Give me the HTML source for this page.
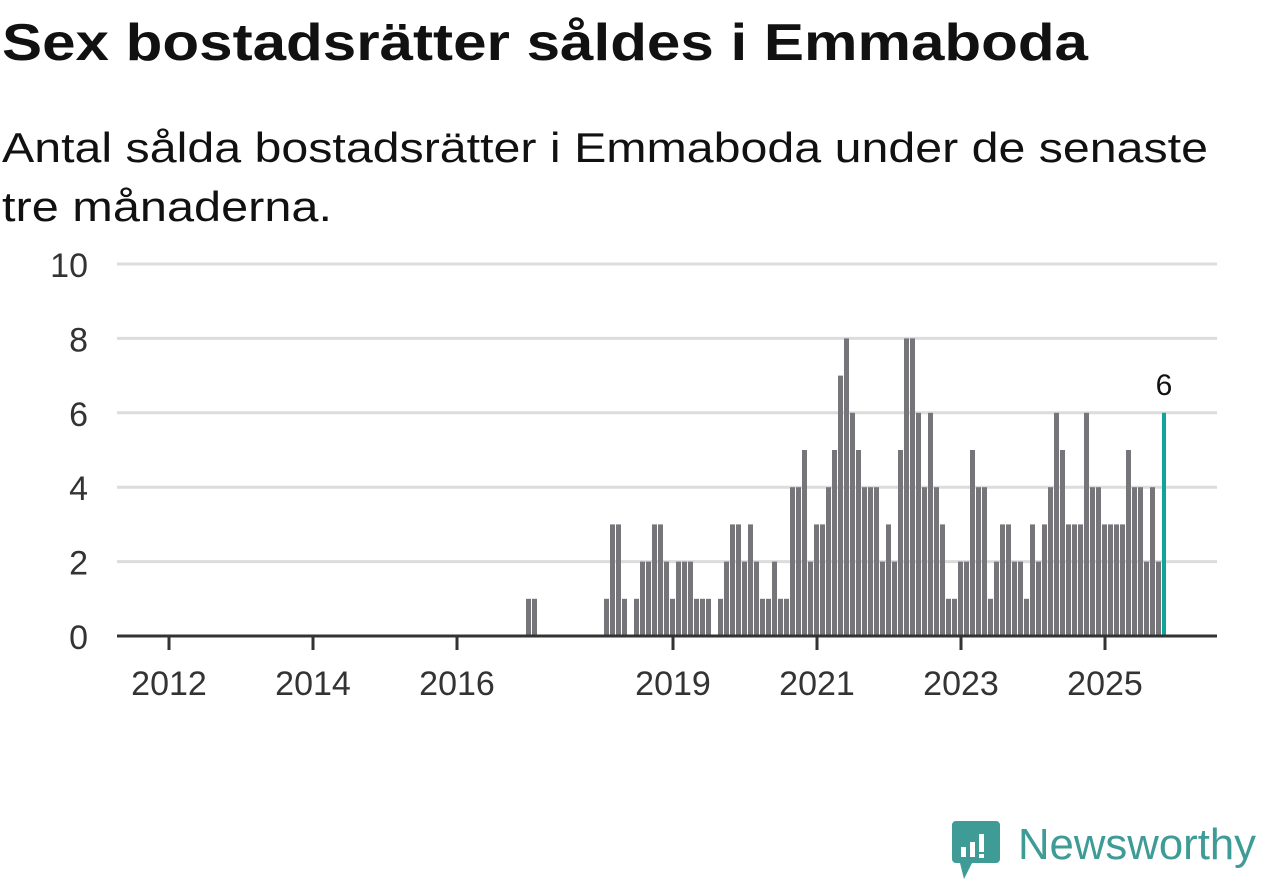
<!DOCTYPE html>
<html><head><meta charset="utf-8"><style>
html,body{margin:0;padding:0;background:#fff;}
svg{display:block;font-family:"Liberation Sans",sans-serif;}
</style></head><body>
<svg id="chart" width="1262" height="879" viewBox="0 0 1262 879">
<text x="2" y="60" font-size="52" font-weight="bold" fill="#111" textLength="1086" lengthAdjust="spacingAndGlyphs">Sex bostadsrätter såldes i Emmaboda</text>
<text x="2" y="162" font-size="42" fill="#111" textLength="1206" lengthAdjust="spacingAndGlyphs">Antal sålda bostadsrätter i Emmaboda under de senaste</text>
<text x="2" y="221" font-size="42" fill="#111" textLength="330" lengthAdjust="spacingAndGlyphs">tre månaderna.</text>
<g id="grid"></g><g id="bars"></g><g id="axis"></g>
<g>
<path d="M956 821 h40 a4 4 0 0 1 4 4 v34 a4 4 0 0 1 -4 4 h-24 l-8 16 l-4 -16 h-4 a4 4 0 0 1 -4 -4 v-34 a4 4 0 0 1 4 -4z" fill="#3e9b95"/>
<rect x="961" y="847" width="5" height="10" fill="#fff"/><rect x="970" y="842" width="5" height="15" fill="#fff"/><rect x="979" y="834" width="5" height="18" fill="#fff"/><rect x="979" y="854" width="5" height="4" fill="#fff"/>
<text x="1018" y="859" font-size="44" fill="#3e9b95" textLength="238" lengthAdjust="spacingAndGlyphs">Newsworthy</text>
</g>
</svg>
<script>
const startYear = 2017;
const values = [
1,1,0,0,0,0,0,0,0,0,0,0,
0,1,3,3,1,0,1,2,2,3,3,2,
1,2,2,2,1,1,1,0,1,2,3,3,
2,3,2,1,1,2,1,1,4,4,5,2,
3,3,4,5,7,8,6,5,4,4,4,2,
3,2,5,8,8,6,4,6,4,3,1,1,
2,2,5,4,4,1,2,3,3,2,2,1,
3,2,3,4,6,5,3,3,3,6,4,4,
3,3,3,3,5,4,4,2,4,2,6];
const yTicks = [0,2,4,6,8,10];
const xTickYears = [2012,2014,2016,2019,2021,2023,2025];

const NS="http://www.w3.org/2000/svg";
const x0=117,x1=1217,yBase=636,unit=37.2;
function xMonth(y,m){return 670+((y-2019)*12+m)*6;}
function yVal(v){return yBase-v*unit;}
function mk(tag,attrs,parent){const e=document.createElementNS(NS,tag);for(const k in attrs)e.setAttribute(k,attrs[k]);parent.appendChild(e);return e;}
const grid=document.getElementById('grid'),bars=document.getElementById('bars'),axis=document.getElementById('axis');
yTicks.forEach(t=>{
  if(t>0){const l=mk('line',{x1:x0,x2:x1,y1:yVal(t),y2:yVal(t),stroke:'#dcdcdc','stroke-width':3},grid);
  
  }
  const tx=mk('text',{x:88,y:yVal(t)+13,'text-anchor':'end','font-size':34,fill:'#333'},grid);
  tx.textContent=t;
  
  
});
values.forEach((v,i)=>{
  const yr=startYear+Math.floor(i/12),m=i%12;
  if(v<=0)return;
  const last=i===values.length-1;
  const r=mk('rect',{x:xMonth(yr,m),y:yVal(v),width:last?4:5,height:v*unit,fill:last?'#12a39a':'#76757a'},bars);
  
  
  if(last){const t=mk('text',{x:xMonth(yr,m)+2,y:yVal(v)-18,'text-anchor':'middle','font-size':30,fill:'#111'},bars);
    t.textContent=v;
    
    }
});
const ax=mk('line',{x1:x0,x2:x1,y1:yBase,y2:yBase,stroke:'#333','stroke-width':3},axis);


xTickYears.forEach(yr=>{
  const x=xMonth(yr,0)+3;
  const t=mk('line',{x1:x,x2:x,y1:yBase,y2:yBase+14,stroke:'#333','stroke-width':3},axis);
  
  
  const l=mk('text',{x:x,y:695,'text-anchor':'middle','font-size':34,fill:'#333'},axis);
  l.textContent=yr;
  
  
});
</script>
</body></html>
